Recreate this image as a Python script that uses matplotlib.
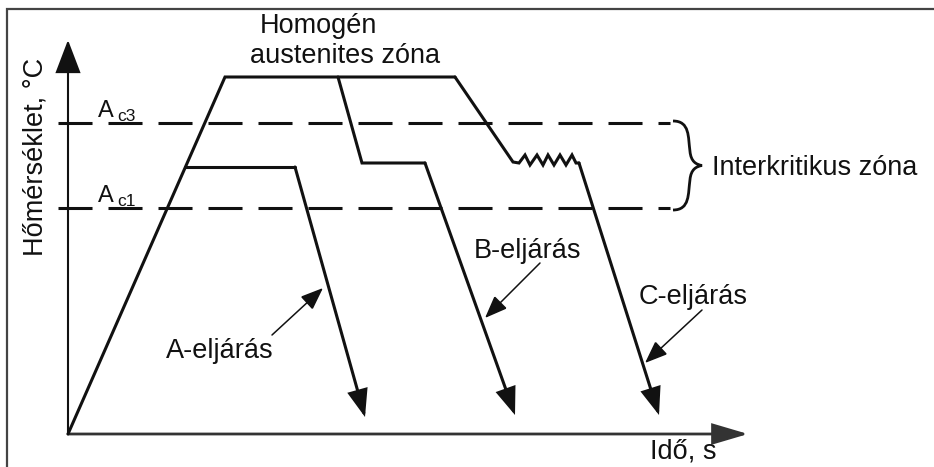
# =====================================
# HEAT TREATMENT SCHEMATIC (A / B / C)
# =====================================

import matplotlib
matplotlib.use("Agg")
import matplotlib.pyplot as plt
from matplotlib.patches import FancyArrowPatch
from matplotlib.path import Path
from matplotlib.patches import PathPatch

plt.rcParams["font.family"] = ["Liberation Sans", "DejaVu Sans"]
plt.rcParams["lines.scale_dashes"] = False

# ============================
# DATA (time, temperature in drawing units)
# ============================

Ac3 = 311
Ac1 = 226

heat_t = [0, 157]
heat_T = [0, 357]

top_t = [157, 387]
top_T = [357, 357]

A_t = [117, 227, 297]
A_T = [267, 267, 17]

B_t = [270, 294, 357, 447]
B_T = [357, 271, 271, 19]

C_t = [387, 445, 451, 457, 462, 469, 475, 480, 486, 492, 498, 504, 508, 511, 591]
C_T = [357, 272, 271, 279, 269, 279, 269, 279, 269, 279, 269, 279, 271, 271, 19]

crit_t = [-10, 602]

labels = ["A-eljárás", "B-eljárás", "C-eljárás"]
label_pos = [(152, 76), (460, 176), (625, 130)]
label_arrow_from = [(204, 99), (472, 171), (634, 124)]
label_arrow_to = [(255, 146), (417, 116), (577, 71)]

# ============================
# FIGURE
# ============================

fig = plt.figure(figsize=(9.34, 4.67), dpi=100)
ax = fig.add_axes([0, 0, 1, 1])
ax.set_xlim(-68, 866)
ax.set_ylim(-33, 434)
ax.axis("off")

black = "#111111"
lw_main = 2.2
fs = 19.5


def arrow(p0, p1, lw, hl, hw, color=black):
    a = FancyArrowPatch(p0, p1,
                        arrowstyle=f"-|>,head_length={hl},head_width={hw}",
                        mutation_scale=1, lw=lw, color=color,
                        shrinkA=0, shrinkB=0, joinstyle="miter")
    ax.add_patch(a)


# frame
ax.plot([-61, -61, 900], [-40, 425, 425], color="#444444", lw=1.6,
        solid_joinstyle="miter", clip_on=False)

# axes with arrows
arrow((0, 0), (0, 394), lw=1.5, hl=21, hw=8)
arrow((0, 0), (680, 0), lw=2.0, hl=22, hw=6.5, color="#333333")

# critical temperature lines
for lvl in [Ac3, Ac1]:
    ax.plot(crit_t, [lvl, lvl], color=black, lw=lw_main,
            linestyle=(0, (24.5, 11.5)))

# heating + holding
ax.plot(heat_t + top_t[1:], heat_T + top_T[1:], color=black, lw=lw_main,
        solid_joinstyle="miter", solid_capstyle="round")

# process paths with arrow at the end
for tt, TT in [(A_t, A_T), (B_t, B_T), (C_t, C_T)]:
    ax.plot(tt[:-1], TT[:-1], color=black, lw=lw_main,
            solid_joinstyle="miter", solid_capstyle="round")
    arrow((tt[-2], TT[-2]), (tt[-1], TT[-1]), lw=lw_main, hl=16, hw=6)

# brace for the intercritical zone
bx0, bx1, bx2 = 605, 622, 634
bm = (Ac3 + Ac1) / 2
verts = [(bx0, Ac3 + 2), (bx1, Ac3 + 2), (bx1 - 2, Ac3 - 14), (bx1, bm + 14),
         (bx1 + 1, bm + 4), (bx2 - 6, bm + 1), (bx2, bm),
         (bx2 - 6, bm - 1), (bx1 + 1, bm - 4), (bx1, bm - 14),
         (bx1 - 2, Ac1 + 14), (bx1, Ac1 - 2), (bx0, Ac1 - 2)]
codes = [Path.MOVETO] + [Path.CURVE4] * 12
ax.add_patch(PathPatch(Path(verts, codes), fill=False, lw=2.0, color=black))

# ============================
# TEXT
# ============================

ax.text(250, 401, "Homogén", ha="center", va="baseline", fontsize=fs, color=black)
ax.text(277, 371, "austenites zóna", ha="center", va="baseline", fontsize=fs, color=black)
ax.text(644, 259, "Interkritikus zóna", ha="left", va="baseline", fontsize=fs, color=black)
ax.text(615, -25, "Idő, s", ha="center", va="baseline", fontsize=fs, color=black)
ax.text(-33, 277, "Hőmérséklet, °C", ha="center", va="center", rotation=90,
        fontsize=fs, color=black)

# A_c3 / A_c1 labels
for lvl, sub in [(Ac3, "c3"), (Ac1, "c1")]:
    ax.text(30, lvl + 6, "A", ha="left", va="baseline", fontsize=17, color=black)
    ax.text(49, lvl + 2, sub, ha="left", va="baseline", fontsize=12.5, color=black)

for lab, pos, p0, p1 in zip(labels, label_pos, label_arrow_from, label_arrow_to):
    ax.text(pos[0], pos[1], lab, ha="center", va="baseline", fontsize=fs, color=black)
    arrow(p0, p1, lw=1.1, hl=14, hw=5.5)

plt.savefig("out.png", dpi=100, facecolor="white")
